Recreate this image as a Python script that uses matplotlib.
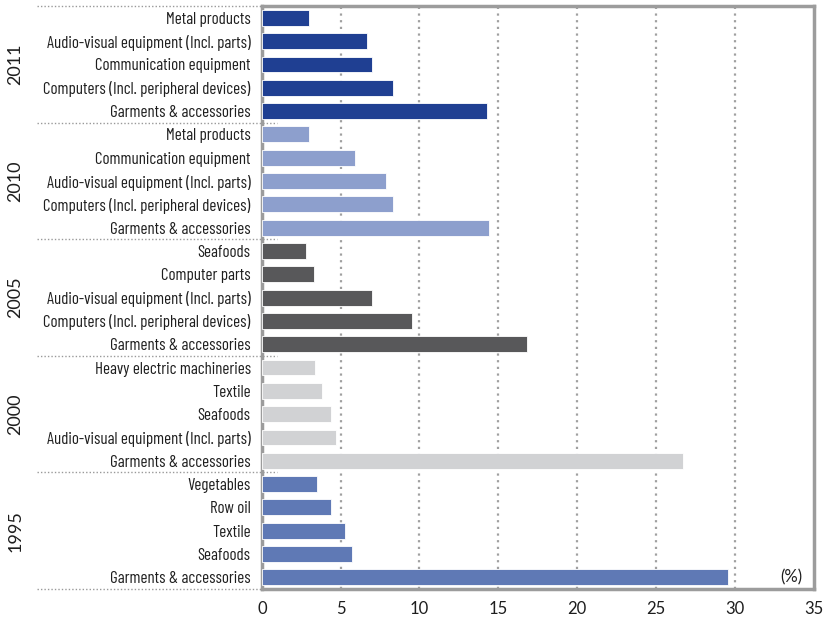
import matplotlib
matplotlib.use("Agg")
import matplotlib.pyplot as plt
from matplotlib.transforms import blended_transform_factory

# data, top to bottom within each year
years = ["2011", "2010", "2005", "2000", "1995"]
cats_2011 = ["Metal products", "Audio-visual equipment (Incl. parts)", "Communication equipment",
             "Computers (Incl. peripheral devices)", "Garments & accessories"]
vals_2011 = [3.0, 6.7, 7.0, 8.3, 14.3]
cats_2010 = ["Metal products", "Communication equipment", "Audio-visual equipment (Incl. parts)",
             "Computers (Incl. peripheral devices)", "Garments & accessories"]
vals_2010 = [3.0, 5.9, 7.9, 8.3, 14.4]
cats_2005 = ["Seafoods", "Computer parts", "Audio-visual equipment (Incl. parts)",
             "Computers (Incl. peripheral devices)", "Garments & accessories"]
vals_2005 = [2.8, 3.3, 7.0, 9.5, 16.8]
cats_2000 = ["Heavy electric machineries", "Textile", "Seafoods",
             "Audio-visual equipment (Incl. parts)", "Garments & accessories"]
vals_2000 = [3.4, 3.8, 4.4, 4.7, 26.7]
cats_1995 = ["Vegetables", "Row oil", "Textile", "Seafoods", "Garments & accessories"]
vals_1995 = [3.5, 4.4, 5.3, 5.7, 29.6]
colors = ["#1f3f92", "#8d9fcd", "#58585a", "#d1d2d4", "#5f79b5"]
xticks = [0, 5, 10, 15, 20, 25, 30, 35]

groups = [(cats_2011, vals_2011), (cats_2010, vals_2010), (cats_2005, vals_2005),
          (cats_2000, vals_2000), (cats_1995, vals_1995)]

COND = ["Barlow Condensed", "Barlow Semi Condensed", "DejaVu Sans"]
WIDE = ["Lato", "DejaVu Sans"]
INK = "#1e1e1e"

fig = plt.figure(figsize=(8.26, 6.2), dpi=100)
ax = fig.add_axes([0.317, 0.050, 0.668, 0.940])

labels, pos = [], []
i = 0
for (cats, vals), col in zip(groups, colors):
    ys = list(range(i, i + len(cats)))
    ax.barh(ys, vals, height=0.68, color=col, edgecolor="white", linewidth=0.6, zorder=3)
    labels += cats
    pos += ys
    i += len(cats)

ax.set_ylim(i - 0.5, -0.5)
ax.set_xlim(0, 35)
ax.set_yticks(pos)
ax.set_yticklabels(labels, fontsize=12.2, family=COND, color=INK)
ax.set_xticks(xticks)
ax.set_xticklabels([str(t) for t in xticks], fontsize=12, family=WIDE, color=INK)
ax.tick_params(length=0)
ax.tick_params(axis="y", pad=8)
ax.tick_params(axis="x", pad=9)

for t in xticks[1:-1]:
    ax.axvline(t, color="#a0a0a0", linestyle=(0, (1, 2)), linewidth=1.6, zorder=1)

for s in ax.spines.values():
    s.set_color("#9c9c9c")
    s.set_linewidth(2.5)

# group separators and year labels
tr = blended_transform_factory(ax.transAxes, ax.transData)
i = 0
for k, (yr, (cats, vals)) in enumerate(zip(years, groups)):
    top = i - 0.5
    end = 0.0 if k == 0 else 0.028
    ax.plot([-0.408, end], [top, top], transform=tr, color="#999999",
            linestyle=(0, (1, 1.5)), linewidth=1.0, clip_on=False, zorder=4)
    ax.text(-0.447, i + (len(cats) - 1) / 2, yr, transform=tr, rotation=90,
            ha="center", va="center", fontsize=13, family=WIDE, color=INK)
    i += len(cats)
ax.plot([-0.408, 0.0], [i - 0.5, i - 0.5], transform=tr, color="#999999",
        linestyle=(0, (1, 1.5)), linewidth=1.0, clip_on=False, zorder=4)

ax.text(34.3, i - 1, "(%)", ha="right", va="center", fontsize=12, family=WIDE,
        color=INK)

fig.savefig("out.png", dpi=100)
